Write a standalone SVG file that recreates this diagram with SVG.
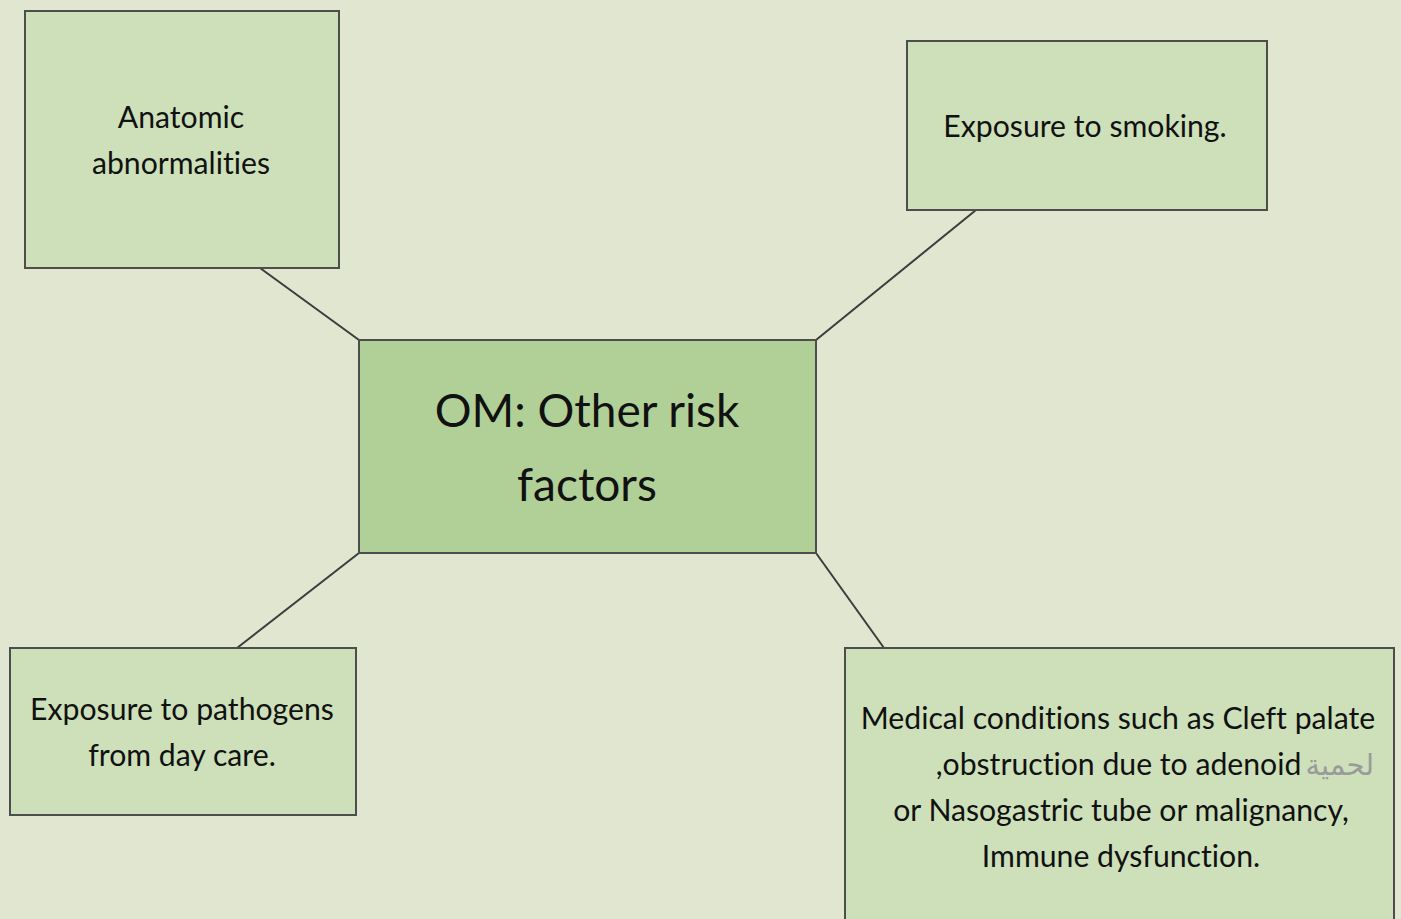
<svg xmlns="http://www.w3.org/2000/svg" width="1401" height="919" viewBox="0 0 1401 919">
<style>
.box{fill:#cde0b9;stroke:#4d4d4d;stroke-width:2}
.main{fill:#b1d098;stroke:#4d4d4d;stroke-width:2}
.t{font-family:Lato,"Open Sans","DejaVu Sans",sans-serif;font-size:30.2px;fill:#111;text-anchor:middle;font-variant-ligatures:none}
.big{font-size:46px}
.ar{font-family:"DejaVu Sans",sans-serif;fill:#9a9a9a;font-size:29px}
.c{stroke:#3c3c3c;stroke-width:2;fill:none}
</style>
<rect width="1401" height="919" fill="#e1e6d0"/>
<g id="connectors">
<line class="c" x1="260" y1="268" x2="359" y2="340"/>
<line class="c" x1="976" y1="210" x2="816" y2="340"/>
<line class="c" x1="359" y1="553" x2="237" y2="648"/>
<line class="c" x1="816" y1="553" x2="884" y2="648"/>
</g>
<g id="anatomic">
<rect class="box" x="25" y="11" width="314" height="257"/>
<text class="t" x="181" y="128">Anatomic</text>
<text class="t" x="181" y="174">abnormalities</text>
</g>
<g id="smoking">
<rect class="box" x="907" y="41" width="360" height="169"/>
<text class="t" x="1085" y="137">Exposure to smoking.</text>
</g>
<g id="center">
<rect class="main" x="359" y="340" width="457" height="213"/>
<text class="t big" x="587" y="427">OM: Other risk</text>
<text class="t big" x="587" y="501">factors</text>
</g>
<g id="pathogens">
<rect class="box" x="10" y="648" width="346" height="167"/>
<text class="t" x="182" y="720">Exposure to pathogens</text>
<text class="t" x="182" y="766">from day care.</text>
</g>
<g id="medical">
<rect class="box" x="845" y="648" width="549" height="280"/>
<text class="t" x="1118" y="729">Medical conditions such as Cleft palate</text>
<text class="t" x="1374" y="775" style="text-anchor:end" direction="ltr">,obstruction due to adenoid<tspan class="ar" dx="4">لحمية</tspan></text>
<text class="t" x="1121" y="821">or Nasogastric tube or malignancy,</text>
<text class="t" x="1121" y="867">Immune dysfunction.</text>
</g>
</svg>
